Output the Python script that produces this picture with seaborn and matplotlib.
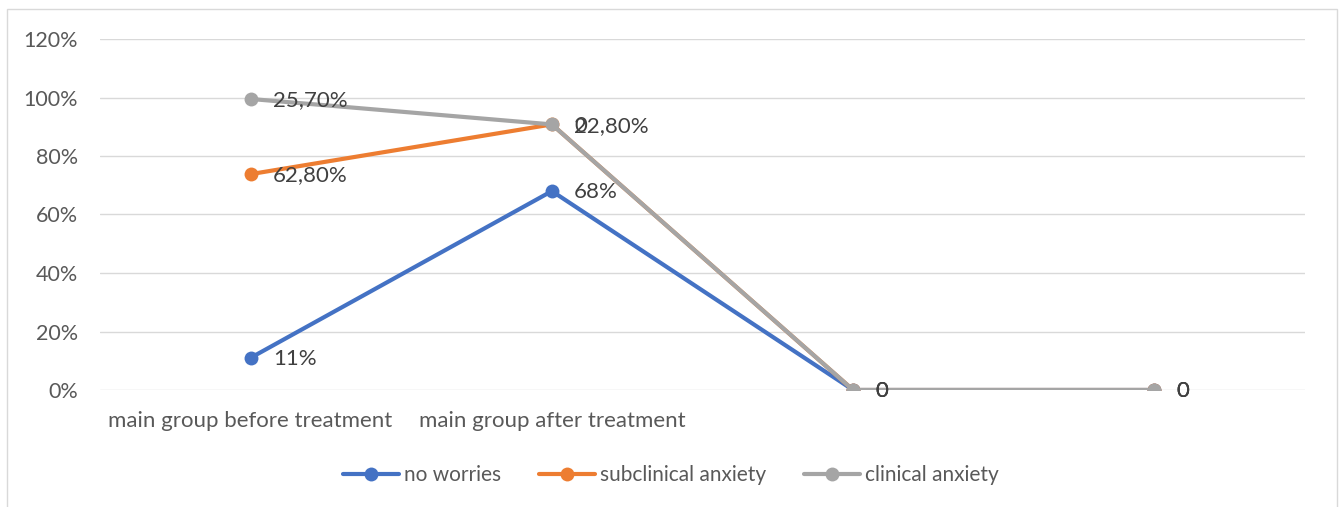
import pandas as pd
import numpy as np
import matplotlib
matplotlib.use('Agg')
import matplotlib.pyplot as plt
import seaborn as sns
from matplotlib.patches import Rectangle

# ### chart data
categories = ['main group before treatment', 'main group after treatment', '', '']
series = ['no worries', 'subclinical anxiety', 'clinical anxiety']
no_worries = [0.11, 0.68, 0, 0]
subclinical = [0.628, 0.228, 0, 0]
clinical = [0.257, 0, 0, 0]
labels = {
    'no worries': ['11%', '68%', '0', '0'],
    'subclinical anxiety': ['62,80%', '22,80%', '0', '0'],
    'clinical anxiety': ['25,70%', '0', '0', '0'],
}
colors = ['#4472c4', '#ed7d31', '#a5a5a5']

# ### stacked line: cumulative sums
vals = np.array([no_worries, subclinical, clinical])
cum = vals.cumsum(axis=0)

rows = []
for i, s in enumerate(series):
    for j in range(len(categories)):
        rows.append({'pos': j, 'value': cum[i, j], 'series': s, 'label': labels[s][j]})
df = pd.DataFrame(rows)

sns.set_style('white')
plt.rcParams['font.family'] = ['Lato', 'DejaVu Sans']

fig = plt.figure(figsize=(13.41, 5.07), dpi=100)
ax = fig.add_axes([100/1341, 1-390/507, 1205/1341, 351/507])

sns.lineplot(data=df, x='pos', y='value', hue='series', hue_order=series,
             palette=colors, marker='o', markersize=10, markeredgewidth=0,
             linewidth=3, ax=ax, legend=True, zorder=3)

# ### data labels
for _, r in df.iterrows():
    ax.annotate(r['label'], (r['pos'], r['value']), xytext=(16, -1),
                textcoords='offset points', va='center', ha='left',
                fontsize=16, color='#404040', zorder=5)

ax.set_xlim(-0.5, 3.5)
ax.set_ylim(0, 1.2)
ax.set_yticks(np.arange(0, 1.21, 0.2))
ax.set_yticklabels([f'{int(round(t*100))}%' for t in np.arange(0, 1.21, 0.2)])
ax.set_xticks(range(len(categories)))
ax.set_xticklabels(categories)
ax.tick_params(axis='both', length=0, labelsize=15.5, labelcolor='#595959')
ax.tick_params(axis='y', pad=16)
ax.tick_params(axis='x', labelsize=16, pad=15)
ax.set_xlabel('')
ax.set_ylabel('')
ax.grid(axis='y', color='#d9d9d9', linewidth=1)
ax.grid(axis='x', visible=False)
for sp in ax.spines.values():
    sp.set_visible(False)
ax.set_axisbelow(True)

leg = ax.legend(loc='center', bbox_to_anchor=(571/1205, (390-475)/351), ncol=3,
                frameon=False, fontsize=15, handlelength=2.7, handletextpad=0.25,
                columnspacing=1.8, labelcolor='#595959')

fig.patches.append(Rectangle((7/1341, -0.02), 1330/1341, 1-9/507+0.02,
                             transform=fig.transFigure, fill=False,
                             edgecolor='#d9d9d9', linewidth=1))

fig.savefig('out.png', dpi=100)
